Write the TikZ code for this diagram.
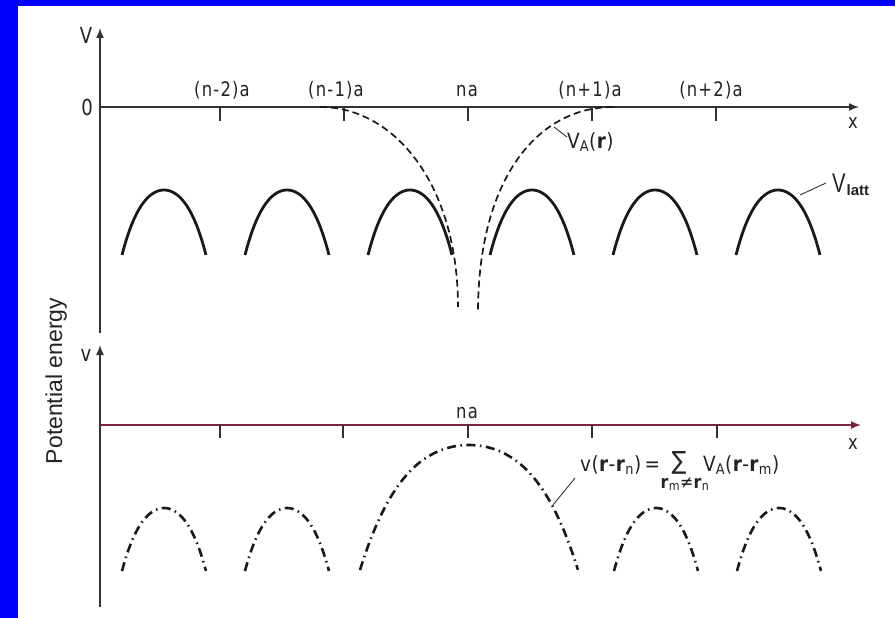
\documentclass[tikz,border=0pt]{standalone}
\usepackage{fontspec}
\setmainfont{DejaVu Sans}
\newfontfamily\lblfont[LetterSpace=6,FakeStretch=0.82]{DejaVu Sans}
\newfontfamily\tightfont[LetterSpace=2,FakeStretch=0.88]{DejaVu Sans}
\newfontfamily\arialfont{Liberation Sans}
\newfontfamily\condfont[FakeStretch=0.75]{Liberation Sans}
\usetikzlibrary{arrows.meta}
\definecolor{bgblue}{RGB}{0,0,250}
\definecolor{axisgray}{RGB}{50,50,50}
\definecolor{textgray}{RGB}{35,35,35}
\definecolor{axisred}{RGB}{120,40,60}
\definecolor{inkblack}{RGB}{25,25,25}
\begin{document}
\begin{tikzpicture}[x=1pt,y=-1pt,
  axis/.style={line width=1.5pt, draw=axisgray},
  arrowaxis/.style={axis, -{Latex[length=10pt,width=8pt]}},
  tickmark/.style={line width=1.4pt, draw=axisgray},
  arch/.style={line width=2.8pt, draw=inkblack},
  vadash/.style={line width=1.7pt, draw=inkblack, dash pattern=on 7pt off 4pt},
  dashdot/.style={line width=2.6pt, draw=inkblack, dash pattern=on 9pt off 4.5pt on 1.5pt off 4.5pt},
  lbl/.style={inner sep=0pt, text=textgray, font=\lblfont\fontsize{20}{20}\selectfont},
  axlbl/.style={inner sep=0pt, text=textgray, font=\lblfont\fontsize{22}{22}\selectfont},
  formula/.style={inner sep=0pt, text=textgray, font=\tightfont\fontsize{21}{21}\selectfont},
  leader/.style={line width=0.9pt, draw=axisgray}
]
\useasboundingbox (0,0) rectangle (895,618);
\fill[bgblue] (0,0) rectangle (895,618);
\fill[white] (18,6) rectangle (895,618);

% ---------- upper panel ----------
\coordinate (Vtop) at (100,28);
\coordinate (Vbot) at (100,333);
\coordinate (O1) at (100,107);
\coordinate (X1) at (859,107);
\draw[arrowaxis] (Vbot) -- (Vtop);
\draw[arrowaxis] (O1) -- (X1);
\foreach \t in {220,344,468,592,716} \draw[tickmark] (\t,107) -- (\t,121);

\node[axlbl] (Vlab) at (86,35) {V};
\node[axlbl] (zero) at (87,107) {0};
\node[axlbl, font=\lblfont\fontsize{20}{20}\selectfont] (xlab1) at (853,123) {x};

\node[lbl, anchor=base] (tn2) at (222,97) {(n-2)a};
\node[lbl, anchor=base] (tn1) at (336,97) {(n-1)a};
\node[lbl, anchor=base] (tna) at (467,97) {na};
\node[lbl, anchor=base] (tp1) at (590,97) {(n+1)a};
\node[lbl, anchor=base] (tp2) at (711,97) {(n+2)a};

% lattice arches
\foreach \c in {164,287,410,532,655,778}
  \draw[arch] plot[domain=-1:1, samples=41, smooth] ({\c+42*\x},{190+65*(0.75*\x*\x+0.25*\x*\x*\x*\x)});

% atomic potential V_A (dashed)
\draw[vadash] (320,107) .. controls (395,107) and (458,185) .. (458,307);
\draw[vadash] (613,107) .. controls (538,107) and (478,178) .. (478,313);

\coordinate (VAp) at (554,127);
\node[formula, anchor=base west] (VAlab) at (567,148) {V\textsubscript{A}(\textbf{r})};
\draw[leader] (VAp) -- (567,137);

\coordinate (Vlp) at (800,195);
\node[inner sep=0pt, anchor=base west, text=textgray] (Vlatt) at (832,192)
  {\condfont\fontsize{27}{27}\selectfont V\kern1pt\raisebox{-3pt}{\arialfont\bfseries\fontsize{15}{15}\selectfont latt}};
\draw[leader] (Vlp) -- (826,183);

% ---------- axis title ----------
\node[rotate=90, anchor=base, inner sep=0pt, text=textgray,
      font=\arialfont\fontsize{23}{23}\selectfont] (pe) at (62,381) {Potential energy};

% ---------- lower panel ----------
\coordinate (vtop) at (100,345);
\coordinate (vbot) at (100,607);
\coordinate (O2) at (100,425);
\coordinate (X2) at (861,425);
\draw[arrowaxis] (vbot) -- (vtop);
\draw[line width=1.5pt, draw=axisred, -{Latex[length=10pt,width=8pt]}] (O2) -- (X2);
\foreach \t in {220,343,468,592,717} \draw[tickmark] (\t,425) -- (\t,438);

\node[axlbl] (vlab) at (86,355) {v};
\node[axlbl, font=\lblfont\fontsize{20}{20}\selectfont] (xlab2) at (853,444) {x};
\node[lbl, anchor=base] (tna2) at (467,418) {na};

\foreach \c in {164,287,656,779}
  \draw[dashdot] plot[domain=-1:1, samples=41, smooth] ({\c+42*\x},{508+63*(0.75*\x*\x+0.25*\x*\x*\x*\x)});
\draw[dashdot] plot[domain=-1:1, samples=61, smooth] ({469+109*\x},{445+125*(0.6*\x*\x+0.4*\x*\x*\x*\x)});

\coordinate (vcurve) at (553,505);
\node[formula, anchor=base west] (vlhs) at (580,471) {v(\textbf{r}-\textbf{r}\textsubscript{n})\,=};
\node[formula, anchor=base, font=\tightfont\fontsize{25}{25}\selectfont] (vsum) at (679,469) {∑};
\node[inner sep=0pt, anchor=base, text=textgray, font=\tightfont\fontsize{18}{18}\selectfont] (vsub) at (685,488)
  {\textbf{r}\textsubscript{m}≠\textbf{r}\textsubscript{n}};
\node[formula, anchor=base west] (vrhs) at (703,471) {V\textsubscript{A}(\textbf{r}-\textbf{r}\textsubscript{m})};
\draw[leader] (vcurve) -- (575,478);
\end{tikzpicture}
\end{document}
